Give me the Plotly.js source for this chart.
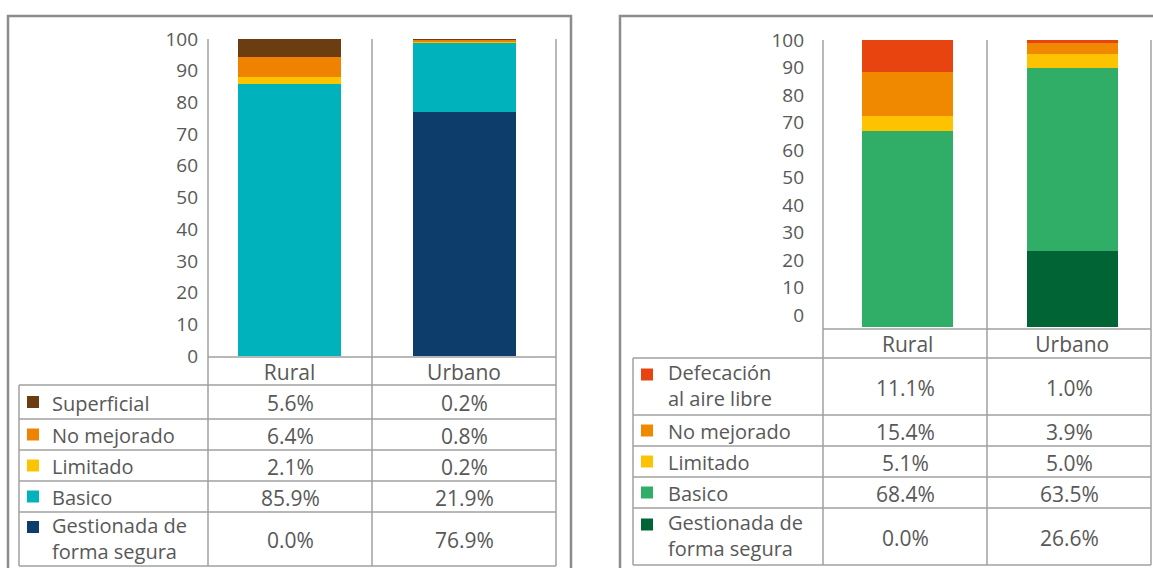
<!DOCTYPE html>
<html>
<head>
<meta charset="utf-8">
<script src="https://cdn.plot.ly/plotly-3.0.1.min.js"></script>
<style>
  html, body { margin: 0; padding: 0; background: #fff; }
  #chart { width: 1153px; height: 568px; }
</style>
</head>
<body>
<div id="chart"></div>
<script>
// data
const categories = ['Rural', 'Urbano'];

const waterLabels = ['Superficial', 'No mejorado', 'Limitado', 'Basico', 'Gestionada de<br>forma segura'];
const waterRural = [5.6, 6.4, 2.1, 85.9, 0.0];
const waterUrbano = [0.2, 0.8, 0.2, 21.9, 76.9];
const waterColors = ['#6b3d10', '#ef8300', '#fcc300', '#00b2bc', '#0d3e6b'];

const sanLabels = ['Defecación<br>al aire libre', 'No mejorado', 'Limitado', 'Basico', 'Gestionada de<br>forma segura'];
const sanRural = [11.1, 15.4, 5.1, 68.4, 0.0];
const sanUrbano = [1.0, 3.9, 5.0, 63.5, 26.6];
const sanColors = ['#e8440f', '#f08900', '#fdc300', '#30ad66', '#006434'];

const yTicks = [0, 10, 20, 30, 40, 50, 60, 70, 80, 90, 100];

// page geometry, in pixels
const W = 1153, H = 568;
const px = x => x / W;
const py = y => 1 - y / H;

const textColor = '#585858';
const gridColor = '#a0a0a0';
const boxColor = '#8c8c8c';
const fontFamily = '"Open Sans", sans-serif';

const panels = [
  { labels: waterLabels, rural: waterRural, urbano: waterUrbano, colors: waterColors,
    xa: 'x', ya: 'y', boxX0: 8, boxX1: 571, tableLeft: 19, cols: [208, 372, 556],
    axisTop: 39, headerLine: 357, rows: [385, 419, 450, 481, 512, 566], swatchX: 27, textX: 50 },
  { labels: sanLabels, rural: sanRural, urbano: sanUrbano, colors: sanColors,
    xa: 'x2', ya: 'y2', boxX0: 620, boxX1: 1170, tableLeft: 633, cols: [823, 987, 1151],
    axisTop: 40, headerLine: 329, rows: [358, 415, 446, 477, 508, 565], swatchX: 641, textX: 666 }
];

const traces = [];
const shapes = [];
const annotations = [];

function line(x0, y0, x1, y1, color, width) {
  shapes.push({ type: 'line', xref: 'paper', yref: 'paper', layer: 'below',
    x0: px(x0), y0: py(y0), x1: px(x1), y1: py(y1),
    line: { color: color, width: width } });
}

function label(x, y, text, size, anchor) {
  annotations.push({ xref: 'paper', yref: 'paper', x: px(x), y: py(y),
    xanchor: anchor, yanchor: 'middle', align: anchor, text: text, showarrow: false,
    font: { family: fontFamily, size: size, color: textColor } });
}

panels.forEach(p => {
  // stacked bars, bottom segment first
  for (let i = p.labels.length - 1; i >= 0; i--) {
    traces.push({
      type: 'bar', x: categories, y: [p.rural[i], p.urbano[i]],
      xaxis: p.xa, yaxis: p.ya, marker: { color: p.colors[i] },
      width: p.xa === 'x' ? 0.59 : 0.555,
      hoverinfo: 'skip', showlegend: false
    });
  }

  // panel frame
  shapes.push({ type: 'rect', xref: 'paper', yref: 'paper', layer: 'below',
    x0: px(p.boxX0), x1: px(p.boxX1), y0: py(600), y1: py(16),
    line: { color: boxColor, width: 2.5 } });

  // table grid
  const last = p.rows[p.rows.length - 1];
  p.cols.forEach(c => line(c, p.axisTop, c, last, gridColor, 1.5));
  line(p.tableLeft, p.rows[0], p.tableLeft, last, gridColor, 1.5);
  line(p.cols[0], p.headerLine, p.cols[2], p.headerLine, gridColor, 1.5);
  p.rows.forEach(r => line(p.tableLeft, r, p.cols[2], r, gridColor, 1.5));

  // table rows
  const mid1 = (p.cols[0] + p.cols[1]) / 2;
  const mid2 = (p.cols[1] + p.cols[2]) / 2;
  p.labels.forEach((lab, i) => {
    const cy = (p.rows[i] + p.rows[i + 1]) / 2;
    const twoLines = lab.indexOf('<br>') >= 0;
    const sy = twoLines ? cy - 12 : cy;
    label(p.textX, twoLines ? cy - 1 : cy + 1, lab, 20, 'left');
    shapes.push({ type: 'rect', xref: 'paper', yref: 'paper',
      x0: px(p.swatchX), x1: px(p.swatchX + 12), y0: py(sy + 6), y1: py(sy - 6),
      fillcolor: p.colors[i], line: { width: 0 } });
    label(mid1, cy + 1, p.rural[i].toFixed(1) + '%', 21, 'center');
    label(mid2, cy + 1, p.urbano[i].toFixed(1) + '%', 21, 'center');
  });
});

// empty trace so the shifted tick axis of the right panel is drawn
traces.push({ type: 'scatter', x: [], y: [], xaxis: 'x2', yaxis: 'y3',
  hoverinfo: 'skip', showlegend: false });

const tickFont = { family: fontFamily, size: 19, color: textColor };
const headFont = { family: fontFamily, size: 21, color: textColor };

const layout = {
  width: W, height: H,
  margin: { l: 0, r: 0, t: 0, b: 0 },
  paper_bgcolor: '#fff', plot_bgcolor: 'rgba(0,0,0,0)',
  barmode: 'stack', bargap: 0.4,
  showlegend: false,
  font: { family: fontFamily, color: textColor },
  xaxis: { domain: [px(208), px(556)], type: 'category', range: [-0.467, 1.527],
    showgrid: false, zeroline: false, showline: false, ticks: '', fixedrange: true,
    tickfont: headFont, ticklabelstandoff: 2, anchor: 'y' },
  yaxis: { domain: [py(356), py(39)], range: [0, 100], tickvals: yTicks,
    showgrid: false, zeroline: false, showline: false, ticks: '', fixedrange: true,
    tickfont: tickFont, ticklabelstandoff: 9, anchor: 'x' },
  xaxis2: { domain: [px(823), px(1151)], type: 'category', range: [-0.515, 1.479],
    showgrid: false, zeroline: false, showline: false, ticks: '', fixedrange: true,
    tickfont: headFont, ticklabelstandoff: 3, anchor: 'y2' },
  yaxis2: { domain: [py(327), py(40)], range: [0, 100], showticklabels: false,
    showgrid: false, zeroline: false, showline: false, ticks: '', fixedrange: true, anchor: 'x2' },
  yaxis3: { overlaying: 'y2', anchor: 'x2', side: 'left', range: [-4.4, 100.05], tickvals: yTicks,
    showgrid: false, zeroline: false, showline: false, ticks: '', fixedrange: true,
    tickfont: tickFont, ticklabelstandoff: 18 },
  shapes: shapes,
  annotations: annotations
};

Plotly.newPlot('chart', traces, layout, { displayModeBar: false, staticPlot: true });
</script>
</body>
</html>
